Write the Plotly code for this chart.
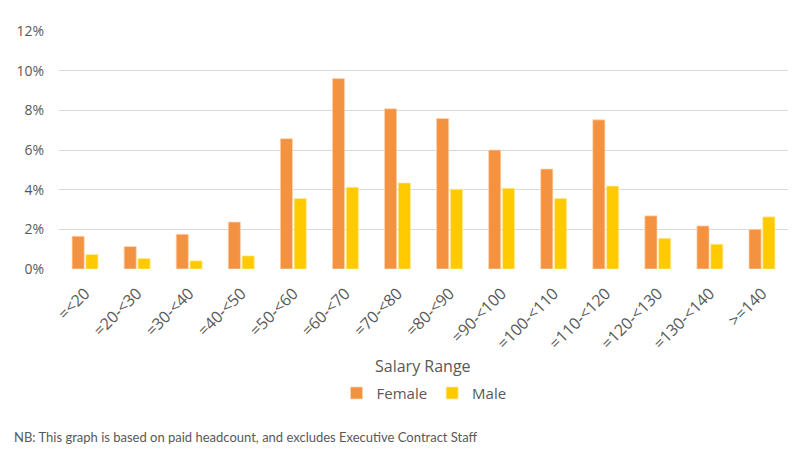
import plotly.graph_objects as go

categories = ["=<20", "=20-<30", "=30-<40", "=40-<50", "=50-<60", "=60-<70", "=70-<80",
              "=80-<90", "=90-<100", "=100-<110", "=110-<120", "=120-<130", "=130-<140", ">=140"]
female = [1.65, 1.13, 1.75, 2.37, 6.57, 9.6, 8.08, 7.59, 6.0, 5.04, 7.52, 2.68, 2.17, 2.0]
male = [0.73, 0.53, 0.41, 0.66, 3.55, 4.12, 4.34, 4.02, 4.07, 3.56, 4.18, 1.55, 1.25, 2.63]
y_ticks = [0, 2, 4, 6, 8, 10, 12]
y_tick_labels = ["0%", "2%", "4%", "6%", "8%", "10%", "12%"]

# page has an 8px body margin; figure sized to fit the window
OFF = 8
W, H = 812 - OFF, 453 - OFF
plot_left, plot_right, plot_top, plot_bottom = 59, 788, 31, 269.5  # page coords
ml = plot_left - OFF
mt = plot_top - OFF
mr = W - (plot_right - OFF)
mb = H - (plot_bottom - OFF)
ph = plot_bottom - plot_top
pw = plot_right - plot_left

def py(y_page):
    return (plot_bottom - y_page) / ph

def px_(x_page):
    return (x_page - plot_left) / pw

fig = go.Figure()
fig.add_trace(go.Bar(x=categories, y=female, name="Female",
                     marker=dict(color="#F39241", line=dict(color="rgba(255,215,180,0.9)", width=0.8))))
fig.add_trace(go.Bar(x=categories, y=male, name="Male",
                     marker=dict(color="#FFCA00", line=dict(color="rgba(255,235,160,0.9)", width=0.8))))

font_family = "Open Sans"
fig.update_layout(
    width=W, height=H,
    margin=dict(l=ml, r=mr, t=mt, b=mb, autoexpand=False),
    paper_bgcolor="white", plot_bgcolor="white",
    barmode="group", bargap=0.47, bargroupgap=0.12,
    font=dict(family=font_family, color="#595959", size=14),
    showlegend=True,
    legend=dict(orientation="h", x=px_(424), xanchor="center", y=py(394), yanchor="middle",
                font=dict(size=15, color="#595959"), itemwidth=30, traceorder="normal"),
    xaxis=dict(tickangle=-45, tickfont=dict(size=16, color="#595959"), showgrid=False,
               showline=False, ticks="", zeroline=False, ticklabelstandoff=11),
    yaxis=dict(range=[0, 12], tickvals=y_ticks, ticktext=y_tick_labels, showgrid=True,
               gridcolor="#D9D9D9", gridwidth=1.3, zeroline=False, showline=False,
               tickfont=dict(size=14, color="#595959"), ticklabelstandoff=14),
    annotations=[
        dict(text="Salary Range", x=px_(423), y=py(367), xref="paper", yref="paper",
             xanchor="center", yanchor="middle", showarrow=False,
             font=dict(size=16, color="#595959")),
        dict(text="NB: This graph is based on paid headcount, and excludes Executive Contract Staff",
             x=px_(12), y=py(438), xref="paper", yref="paper", xanchor="left", yanchor="middle",
             showarrow=False, font=dict(size=13, color="#595959", family="Lato")),
    ],
)

fig.write_html("out.html")
